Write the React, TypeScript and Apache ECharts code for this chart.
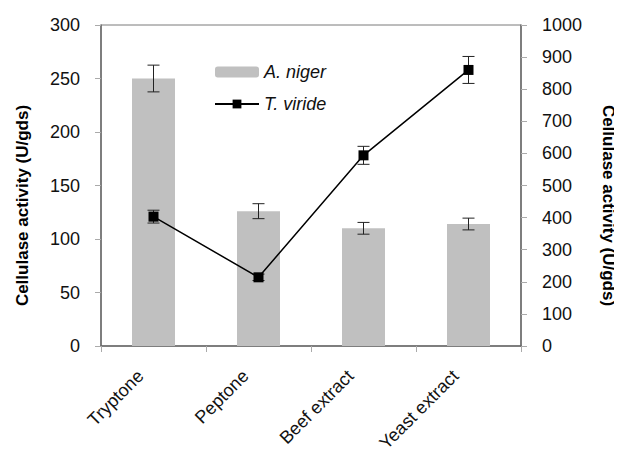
import React, { useEffect, useRef } from "react";
import * as echarts from "echarts";

const categories = ["Tryptone", "Peptone", "Beef extract", "Yeast extract"];
const aNiger = [250, 126, 110, 114];
const aNigerErr = [12.5, 7, 5.5, 5.5];
const tViride = [403, 214, 594, 860];
const tViridErr = [20, 10, 28, 42];
const leftTicks = [0, 50, 100, 150, 200, 250, 300];
const rightTicks = [0, 100, 200, 300, 400, 500, 600, 700, 800, 900, 1000];
const axisTitle = "Cellulase activity (U/gds)";

const FONT = "Arial, 'Liberation Sans', Helvetica, sans-serif";

function errorRender(params: any, api: any) {
  const x = api.value(0);
  const lo = api.coord([x, api.value(1)]);
  const hi = api.coord([x, api.value(2)]);
  const cap = 6;
  const style = { stroke: "#222", lineWidth: 1 };
  return {
    type: "group",
    children: [
      { type: "line", shape: { x1: lo[0], y1: lo[1], x2: hi[0], y2: hi[1] }, style },
      { type: "line", shape: { x1: lo[0] - cap, y1: lo[1], x2: lo[0] + cap, y2: lo[1] }, style },
      { type: "line", shape: { x1: hi[0] - cap, y1: hi[1], x2: hi[0] + cap, y2: hi[1] }, style },
    ],
  };
}

export default function App() {
  const ref = useRef<HTMLDivElement>(null);
  useEffect(() => {
    if (!ref.current) return;
    const chart = echarts.init(ref.current, null, { renderer: "svg" });
    const W = 622, H = 455;
    const gridTop = 25, gridBottom = 109;
    const axisY = H - gridBottom;
    const midY = (gridTop + axisY) / 2 + 20;
    chart.setOption({
      animation: false,
      backgroundColor: "#fff",
      grid: {
        left: 101, right: 101, top: gridTop, bottom: gridBottom,
        outerBoundsMode: "none",
        containLabel: false,
        show: true, borderColor: "#7a7a7a", borderWidth: 1, backgroundColor: "transparent",
      },
      legend: {
        data: ["A. niger", "T. viride"],
        orient: "vertical",
        left: 214,
        top: 63,
        padding: 0,
        itemWidth: 44,
        itemHeight: 11,
        itemGap: 14,
        textStyle: { fontFamily: FONT, fontSize: 18, fontStyle: "italic", color: "#111" },
      },
      xAxis: {
        type: "category",
        data: categories,
        axisLine: { lineStyle: { color: "#6a6a6a", width: 1.5 } },
        axisTick: { show: true, length: 6, lineStyle: { color: "#aaa" } },
        axisLabel: { show: false },
      },
      yAxis: [
        {
          type: "value",
          min: leftTicks[0],
          max: leftTicks[leftTicks.length - 1],
          interval: leftTicks[1] - leftTicks[0],
          position: "left",
          splitLine: { show: false },
          axisLine: { show: true, lineStyle: { color: "#6a6a6a", width: 1.5 } },
          axisTick: { show: true, length: 6, lineStyle: { color: "#aaa" } },
          axisLabel: { margin: 21, fontFamily: FONT, fontSize: 18, color: "#111" },
        },
        {
          type: "value",
          min: rightTicks[0],
          max: rightTicks[rightTicks.length - 1],
          interval: rightTicks[1] - rightTicks[0],
          position: "right",
          splitLine: { show: false },
          axisLine: { show: true, lineStyle: { color: "#6a6a6a", width: 1.5 } },
          axisTick: { show: true, length: 6, lineStyle: { color: "#aaa" } },
          axisLabel: {
            margin: 21, fontFamily: FONT, fontSize: 18, color: "#111",
            formatter: (v: number) => String(v),
          },
        },
      ],
      series: [
        {
          name: "A. niger",
          type: "bar",
          yAxisIndex: 0,
          data: aNiger,
          barWidth: 43,
          itemStyle: { color: "#c0c0c0" },
        },
        {
          name: "A. niger err",
          type: "custom",
          yAxisIndex: 0,
          renderItem: errorRender,
          data: aNiger.map((v, i) => [i, v - aNigerErr[i], v + aNigerErr[i]]),
          z: 3,
        },
        {
          name: "T. viride err",
          type: "custom",
          yAxisIndex: 1,
          renderItem: errorRender,
          data: tViride.map((v, i) => [i, v - tViridErr[i], v + tViridErr[i]]),
          z: 3,
        },
        {
          name: "T. viride",
          type: "line",
          yAxisIndex: 1,
          data: tViride,
          symbol: "rect",
          symbolSize: 10,
          lineStyle: { color: "#000", width: 1.5 },
          itemStyle: { color: "#000" },
          z: 4,
        },
      ],
    });

    const catLabels = categories.map((c, i) => {
      const px = chart.convertToPixel({ xAxisIndex: 0 }, i) as number;
      return {
        type: "text",
        x: px - 13,
        y: axisY + 27,
        rotation: Math.PI / 4,
        style: {
          text: c,
          font: `18px ${FONT}`,
          fill: "#111",
          align: "right",
          verticalAlign: "middle",
        },
      };
    });

    chart.setOption({
      graphic: [
        ...catLabels,
        {
          type: "text",
          x: 22,
          y: midY,
          rotation: Math.PI / 2,
          style: {
            text: axisTitle,
            font: `bold 17px ${FONT}`,
            fill: "#000",
            align: "center",
            verticalAlign: "middle",
          },
        },
        {
          type: "text",
          x: W - 14,
          y: midY,
          rotation: -Math.PI / 2,
          style: {
            text: axisTitle,
            font: `bold 17px ${FONT}`,
            fill: "#000",
            align: "center",
            verticalAlign: "middle",
          },
        },
      ],
    });
    return () => chart.dispose();
  }, []);
  return <div ref={ref} style={{ width: 622, height: 455, margin: -8 }} />;
}
